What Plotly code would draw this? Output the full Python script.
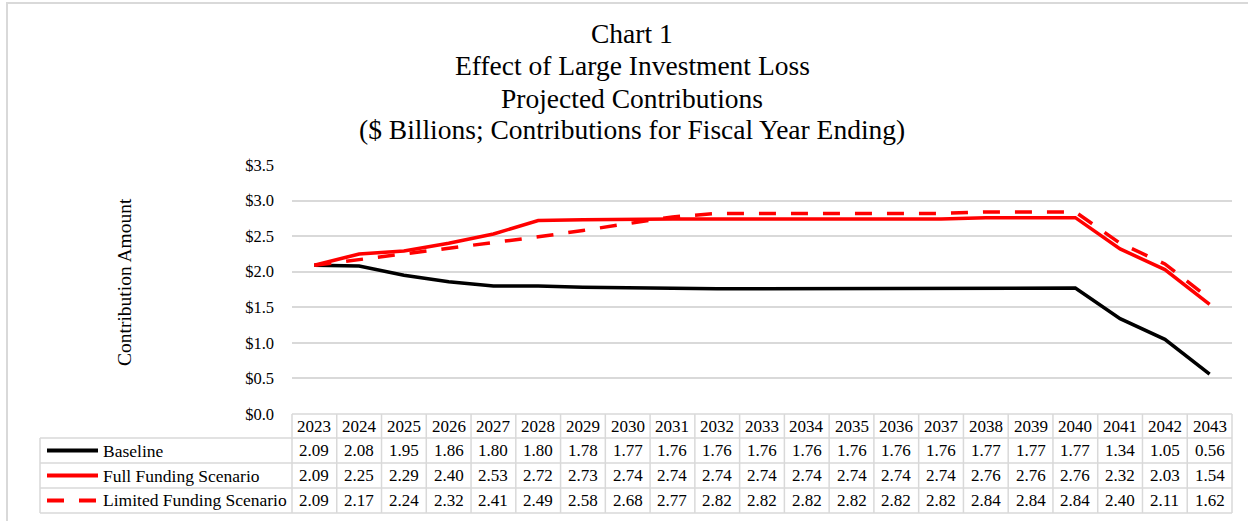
import plotly.graph_objects as go

# Projected contributions, $ billions, by fiscal year ending
years = list(range(2023, 2044))
baseline = [2.09, 2.08, 1.95, 1.86, 1.80, 1.80, 1.78, 1.77, 1.76, 1.76, 1.76,
            1.76, 1.76, 1.76, 1.76, 1.77, 1.77, 1.77, 1.34, 1.05, 0.56]
full_funding = [2.09, 2.25, 2.29, 2.40, 2.53, 2.72, 2.73, 2.74, 2.74, 2.74, 2.74,
                2.74, 2.74, 2.74, 2.74, 2.76, 2.76, 2.76, 2.32, 2.03, 1.54]
limited_funding = [2.09, 2.17, 2.24, 2.32, 2.41, 2.49, 2.58, 2.68, 2.77, 2.82, 2.82,
                   2.82, 2.82, 2.82, 2.82, 2.84, 2.84, 2.84, 2.40, 2.11, 1.62]

series_names = ["Baseline", "Full Funding Scenario", "Limited Funding Scenario"]
series_values = [baseline, full_funding, limited_funding]
series_colors = ["#000000", "#ff0000", "#ff0000"]
series_dash = ["solid", "solid", "17px,15px"]

title_lines = [
    "Chart 1",
    "Effect of Large Investment Loss",
    "Projected Contributions",
    "($ Billions; Contributions for Fiscal Year Ending)",
]

FONT = "Liberation Serif"
W, H = 1248, 521
ML, MR, MT, MB = 292, 16, 165, 107
PW, PH = W - ML - MR, H - MT - MB
GRID = "#d9d9d9"


def px_x(px):
    return (px - ML) / PW


def px_y(py):
    return (H - MB - py) / PH


fig = go.Figure()
for name, vals, col, dash in zip(series_names, series_values, series_colors, series_dash):
    fig.add_trace(go.Scatter(
        x=years, y=vals, name=name, mode="lines",
        line=dict(color=col, width=3.5, dash=dash),
        showlegend=False,
    ))

shapes = []
annotations = []

# outer frame
shapes.append(dict(type="rect", xref="paper", yref="paper",
                   x0=px_x(7), x1=px_x(W + 20), y0=px_y(3), y1=px_y(H + 20),
                   line=dict(color=GRID, width=2), fillcolor="rgba(0,0,0,0)", layer="below"))

# title
for txt, cy in zip(title_lines, [34, 66, 98, 129]):
    annotations.append(dict(text=txt, xref="paper", yref="paper", x=px_x(632), y=px_y(cy),
                            showarrow=False, xanchor="center", yanchor="middle",
                            font=dict(family=FONT, size=27.5, color="#000000")))

# y axis title
annotations.append(dict(text="Contribution Amount", xref="paper", yref="paper",
                        x=px_x(124), y=px_y(282), textangle=-90, showarrow=False,
                        xanchor="center", yanchor="middle",
                        font=dict(family=FONT, size=19.5, color="#000000")))

# data table under the plot
row_edges = [414, 438, 463, 488, 513]
table_left = 40
line_style = dict(color=GRID, width=1.5)


def col_x(v):
    return (v - (years[0] - 0.5)) / len(years)


# horizontal rules
shapes.append(dict(type="line", xref="paper", yref="paper", x0=0, x1=1,
                   y0=px_y(row_edges[0]), y1=px_y(row_edges[0]), line=line_style))
for py in row_edges[1:]:
    shapes.append(dict(type="line", xref="paper", yref="paper", x0=px_x(table_left), x1=1,
                       y0=px_y(py), y1=px_y(py), line=line_style))
# vertical rules
for k in range(len(years) + 1):
    xv = col_x(years[0] - 0.5 + k)
    shapes.append(dict(type="line", xref="paper", yref="paper", x0=xv, x1=xv,
                       y0=px_y(row_edges[0]), y1=px_y(row_edges[-1]), line=line_style))
shapes.append(dict(type="line", xref="paper", yref="paper", x0=px_x(table_left), x1=px_x(table_left),
                   y0=px_y(row_edges[1]), y1=px_y(row_edges[-1]), line=line_style))

num_font = dict(family=FONT, size=17, color="#000000")
name_font = dict(family=FONT, size=17.5, color="#000000")

# header: years
hy = px_y((row_edges[0] + row_edges[1]) / 2)
for yr in years:
    annotations.append(dict(text=str(yr), xref="x", yref="paper", x=yr, y=hy,
                            showarrow=False, xanchor="center", yanchor="middle", font=num_font))

# series rows with legend keys
for r, (name, vals, col, dash) in enumerate(zip(series_names, series_values, series_colors, series_dash)):
    cy = (row_edges[r + 1] + row_edges[r + 2]) / 2
    ry = px_y(cy)
    shapes.append(dict(type="line", xref="paper", yref="paper", x0=px_x(47), x1=px_x(98),
                       y0=ry, y1=ry, line=dict(color=col, width=4, dash=dash)))
    annotations.append(dict(text=name, xref="paper", yref="paper", x=px_x(101), y=ry,
                            showarrow=False, xanchor="left", yanchor="middle", font=name_font))
    for yr, v in zip(years, vals):
        annotations.append(dict(text=f"{v:.2f}", xref="x", yref="paper", x=yr, y=ry,
                                showarrow=False, xanchor="center", yanchor="middle", font=num_font))

fig.update_layout(
    width=W, height=H,
    margin=dict(l=ML, r=MR, t=MT, b=MB, pad=0),
    paper_bgcolor="#ffffff", plot_bgcolor="#ffffff",
    shapes=shapes, annotations=annotations,
    xaxis=dict(range=[years[0] - 0.5, years[-1] + 0.5], showticklabels=False,
               showgrid=False, zeroline=False, showline=False, ticks=""),
    yaxis=dict(range=[0, 3.5], dtick=0.5, tick0=0, tickprefix="$", tickformat=".1f",
               showgrid=True, gridcolor=GRID, gridwidth=1.5, zeroline=False, showline=False,
               ticks="", ticklabelstandoff=17,
               tickfont=dict(family=FONT, size=16.5, color="#000000")),
    font=dict(family=FONT),
)

fig.write_html("out.html")
